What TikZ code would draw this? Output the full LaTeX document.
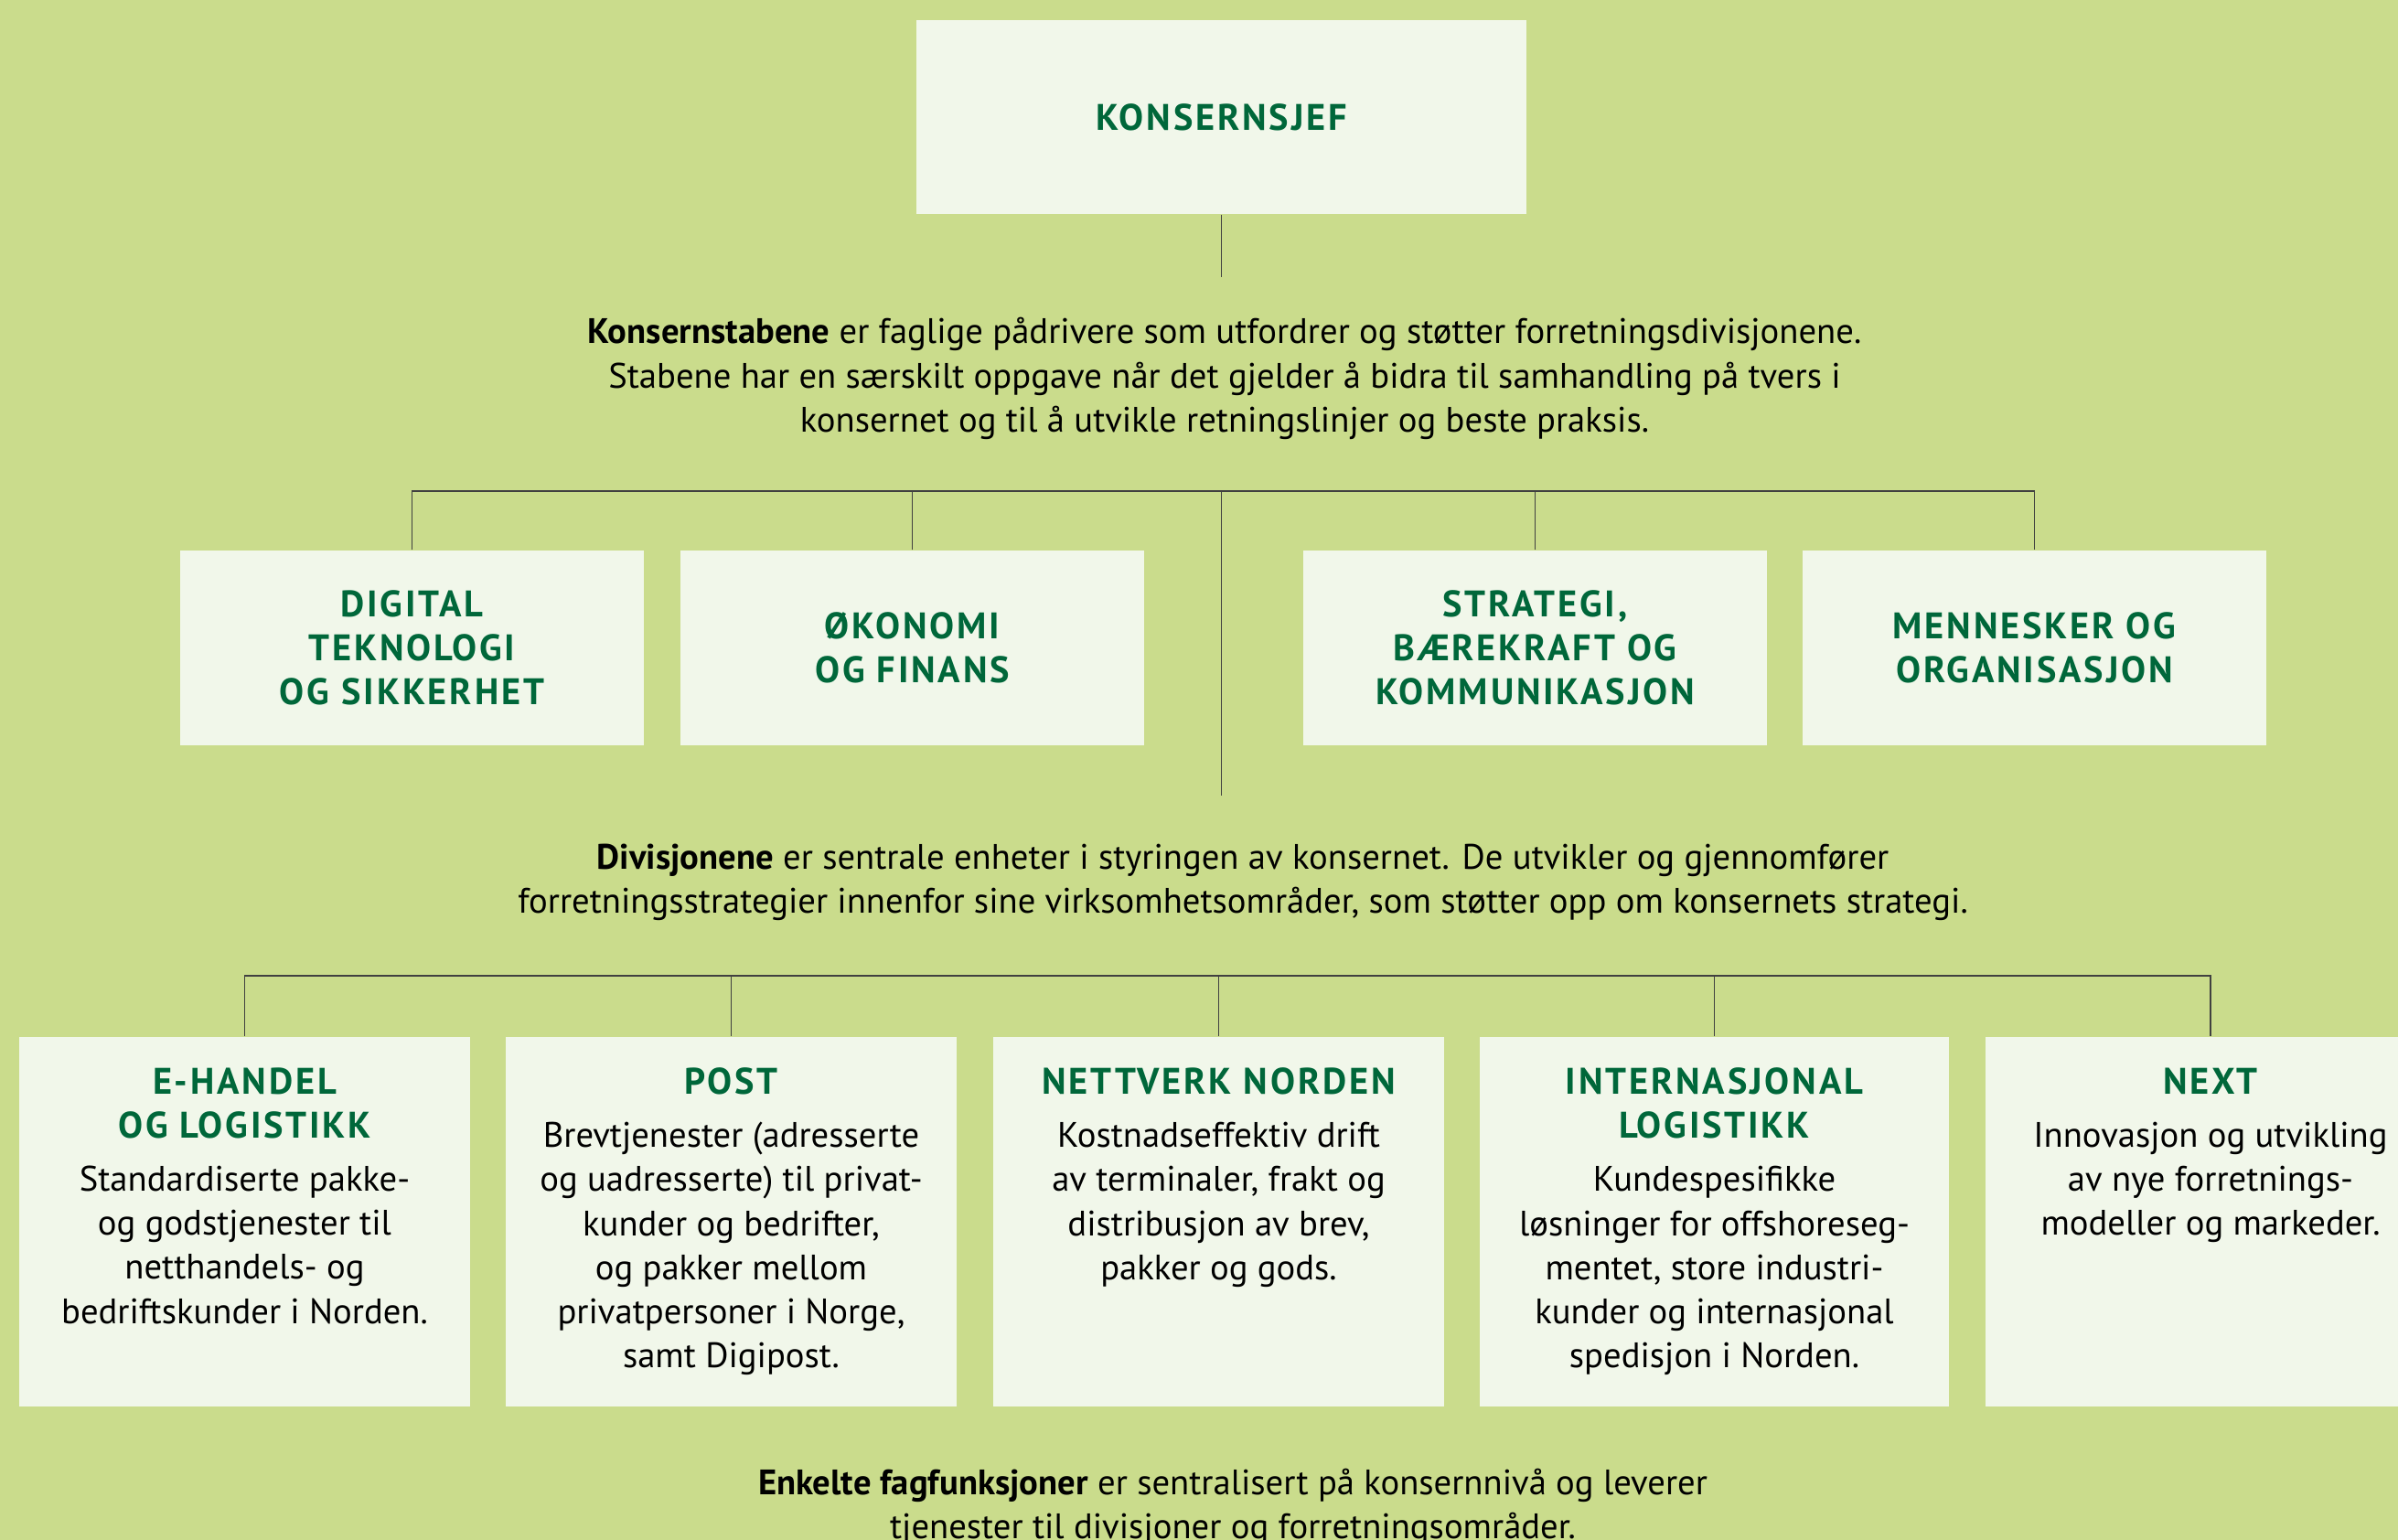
\documentclass[tikz,border=0pt]{standalone}
\usepackage{fontspec}
\setmainfont{PT Sans}
\usetikzlibrary{positioning}
\definecolor{bggreen}{HTML}{CADC8C}
\definecolor{boxfill}{HTML}{F1F7EA}
\definecolor{postgreen}{HTML}{00673A}
\newcommand{\orgfont}{\fontsize{11}{13.7}\selectfont}
\newcommand{\titlefont}{\fontsize{11.5}{13.7}\selectfont\bfseries\addfontfeatures{LetterSpace=7}}
\newcommand{\divtitle}[1]{{\color{postgreen}\titlefont #1}}
\tikzset{
	tree/.style={black!75, line width=0.5pt},
	chefbox/.style={fill=boxfill, minimum width=6.67cm, minimum height=2.12cm, align=center, text=postgreen, font=\titlefont},
	stabbox/.style={fill=boxfill, minimum width=5.07cm, minimum height=2.13cm, align=center, text=postgreen, font=\titlefont},
	divbox/.style={fill=boxfill, minimum width=#1, minimum height=4.04cm, anchor=north, inner sep=0pt},
	divbox/.default=4.93cm,
	divtext/.style={align=center, anchor=north, inner sep=0pt, font=\orgfont},
	infotext/.style={align=center, font=\orgfont}
}

\begin{document}
\begin{tikzpicture}
\useasboundingbox (0,0) rectangle (26.22,16.84);
\fill[bggreen] (0,0) rectangle (26.22,16.84);
\clip (0,0) rectangle (26.22,16.84);
\node[chefbox] (chef) at (13.355,15.56) {KONSERNSJEF};
\coordinate (chefend) at (13.355,13.81);
\node[infotext] (stabtekst) at (13.39,12.70) {\textbf{Konsernstabene} er faglige pådrivere som utfordrer og støtter forretningsdivisjonene.\\Stabene har en særskilt oppgave når det gjelder å bidra til samhandling på tvers i\\konsernet og til å utvikle retningslinjer og beste praksis.};
\node[stabbox] (digital) at (4.505,9.755) {DIGITAL\\TEKNOLOGI\\OG SIKKERHET};
\node[stabbox] (okonomi) at (9.975,9.755) {ØKONOMI\\OG FINANS};
\node[stabbox] (strategi) at (16.785,9.755) {STRATEGI,\\BÆREKRAFT OG\\KOMMUNIKASJON};
\node[stabbox] (mennesker) at (22.245,9.755) {MENNESKER OG\\ORGANISASJON};
\coordinate (stabbus) at (13.355,11.47);
\coordinate (stabend) at (13.355,8.14);
\node[infotext] (divtekst) at (13.59,7.19) {\textbf{Divisjonene} er sentrale enheter i styringen av konsernet. De utvikler og gjennomfører\\forretningsstrategier innenfor sine virksomhetsområder, som støtter opp om konsernets strategi.};
\coordinate (divbus) at (13.355,6.17);
\node[divbox] (ehandel) at (2.675,5.51) {};
\node[divbox] (post) at (7.995,5.51) {};
\node[divbox] (nettverk) at (13.325,5.51) {};
\node[divbox=5.13cm] (internasjonal) at (18.745,5.51) {};
\node[divbox] (next) at (24.17,5.51) {};
\node[divtext, below=0.34cm of ehandel.north] (ehandeltekst) {\divtitle{E-HANDEL}\\\divtitle{OG LOGISTIKK}\\[0.1cm]Standardiserte pakke-\\og godstjenester til\\netthandels- og\\bedriftskunder i Norden.};
\node[divtext, below=0.34cm of post.north] (posttekst) {\divtitle{POST}\\[0.1cm]Brevtjenester (adresserte\\og uadresserte) til privat-\\kunder og bedrifter,\\og pakker mellom\\privatpersoner i Norge,\\samt Digipost.};
\node[divtext, below=0.34cm of nettverk.north] (nettverktekst) {\divtitle{NETTVERK NORDEN}\\[0.1cm]Kostnadseffektiv drift\\av terminaler, frakt og\\distribusjon av brev,\\pakker og gods.};
\node[divtext, below=0.34cm of internasjonal.north] (internasjonaltekst) {\divtitle{INTERNASJONAL}\\\divtitle{LOGISTIKK}\\[0.1cm]Kundespesifikke\\løsninger for offshoreseg-\\mentet, store industri-\\kunder og internasjonal\\spedisjon i Norden.};
\node[divtext, below=0.34cm of next.north] (nexttekst) {\divtitle{NEXT}\\[0.1cm]Innovasjon og utvikling\\av nye forretnings-\\modeller og markeder.};
\node[infotext] (fagtekst) at (13.48,0.355) {\textbf{Enkelte fagfunksjoner} er sentralisert på konsernnivå og leverer\\tjenester til divisjoner og forretningsområder.};
\draw[tree] (chef.south) -- (chefend);
\draw[tree] (digital.north) |- (stabbus) -| (mennesker.north);
\foreach \n in {okonomi,strategi}
	\draw[tree] (\n.north) -- (\n.north |- stabbus);
\draw[tree] (stabbus) -- (stabend);
\draw[tree] (ehandel.north) |- (divbus) -| (next.north);
\foreach \n in {post,nettverk,internasjonal}
	\draw[tree] (\n.north) -- (\n.north |- divbus);
\end{tikzpicture}
\end{document}
